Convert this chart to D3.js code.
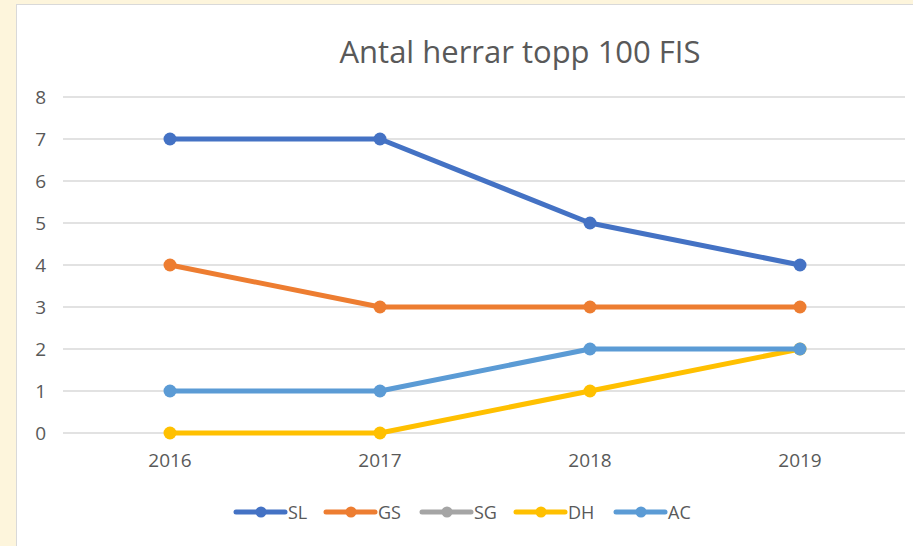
<!DOCTYPE html>
<html>
<head>
<meta charset="utf-8">
<script src="https://cdn.jsdelivr.net/npm/d3@7"></script>
<style>
  html, body { margin: 0; padding: 0; background: #fdf5dc; }
  svg { display: block; }
</style>
</head>
<body>
<script>
const years = ['2016', '2017', '2018', '2019']
const seriesNames = ['SL', 'GS', 'SG', 'DH', 'AC']
const SL = [7, 7, 5, 4]
const GS = [4, 3, 3, 3]
const SG = [null, null, null, null]
const DH = [0, 0, 1, 2]
const AC = [1, 1, 2, 2]
const yTicks = [0, 1, 2, 3, 4, 5, 6, 7, 8]
const colors = ['#4472c4', '#ed7d31', '#a5a5a5', '#ffc000', '#5b9bd5']

const width = 913, height = 546
const font = '"Open Sans", "Liberation Sans", sans-serif'
const textColor = '#595959'

const svg = d3.select('body')
  .append('svg')
  .attr('width', width)
  .attr('height', height)

// white chart area with grey frame
svg.append('rect')
  .attr('x', 16.5)
  .attr('y', 4.5)
  .attr('width', width)
  .attr('height', height)
  .attr('fill', 'white')
  .attr('stroke', '#d9d9d9')

const x = d3.scaleBand()
  .domain(years)
  .range([65, 905])

const y = d3.scaleLinear()
  .domain([0, 8])
  .range([433, 97])

// gridlines
svg.append('g')
  .selectAll('line')
  .data(yTicks)
  .enter()
  .append('line')
  .attr('x1', 63)
  .attr('x2', 905)
  .attr('y1', d => y(d))
  .attr('y2', d => y(d))
  .attr('stroke', '#d9d9d9')
  .attr('stroke-width', 1.3)

// y axis labels
const yAxis = d3.axisLeft(y).tickValues(yTicks).tickSize(0).tickPadding(0)
svg.append('g')
  .attr('transform', 'translate(46, 0)')
  .call(yAxis)
  .call(g => g.select('.domain').remove())
  .call(g => g.selectAll('text')
    .attr('fill', textColor)
    .style('font-family', font)
    .style('font-size', '19px'))

// x axis labels
const xAxis = d3.axisBottom(x).tickSize(0).tickPadding(0)
svg.append('g')
  .attr('transform', 'translate(0, 453)')
  .call(xAxis)
  .call(g => g.select('.domain').remove())
  .call(g => g.selectAll('text')
    .attr('fill', textColor)
    .style('font-family', font)
    .style('font-size', '19px'))

// title
svg.append('text')
  .attr('x', 520)
  .attr('y', 63)
  .attr('text-anchor', 'middle')
  .attr('fill', textColor)
  .style('font-family', font)
  .style('font-size', '31px')
  .text('Antal herrar topp 100 FIS')

const cx = d => x(d) + x.bandwidth() / 2
const allSeries = [SL, GS, SG, DH, AC]

const line = d3.line()
  .defined(d => d.v !== null)
  .x(d => cx(d.year))
  .y(d => y(d.v))

allSeries.forEach((values, i) => {
  const pts = values.map((v, j) => ({ year: years[j], v: v }))
  svg.append('path')
    .datum(pts)
    .attr('d', line)
    .attr('fill', 'none')
    .attr('stroke', colors[i])
    .attr('stroke-width', 5)
    .attr('stroke-linejoin', 'round')
    .attr('stroke-linecap', 'round')
  svg.append('g')
    .selectAll('circle')
    .data(pts.filter(d => d.v !== null))
    .enter()
    .append('circle')
    .attr('cx', d => cx(d.year))
    .attr('cy', d => y(d.v))
    .attr('r', 6.5)
    .attr('fill', colors[i])
})

// legend
const legendX = [236, 326, 422, 516, 616]
const legend = svg.append('g')
seriesNames.forEach((name, i) => {
  const g = legend.append('g').attr('transform', 'translate(' + legendX[i] + ', 512)')
  g.append('line')
    .attr('x1', 0).attr('x2', 49)
    .attr('y1', 0).attr('y2', 0)
    .attr('stroke', colors[i])
    .attr('stroke-width', 5)
    .attr('stroke-linecap', 'round')
  g.append('circle')
    .attr('cx', 25).attr('cy', 0).attr('r', 5.5)
    .attr('fill', colors[i])
  g.append('text')
    .attr('x', 52)
    .attr('y', 7)
    .attr('fill', textColor)
    .style('font-family', font)
    .style('font-size', '18px')
    .text(name)
})
</script>
</body>
</html>
